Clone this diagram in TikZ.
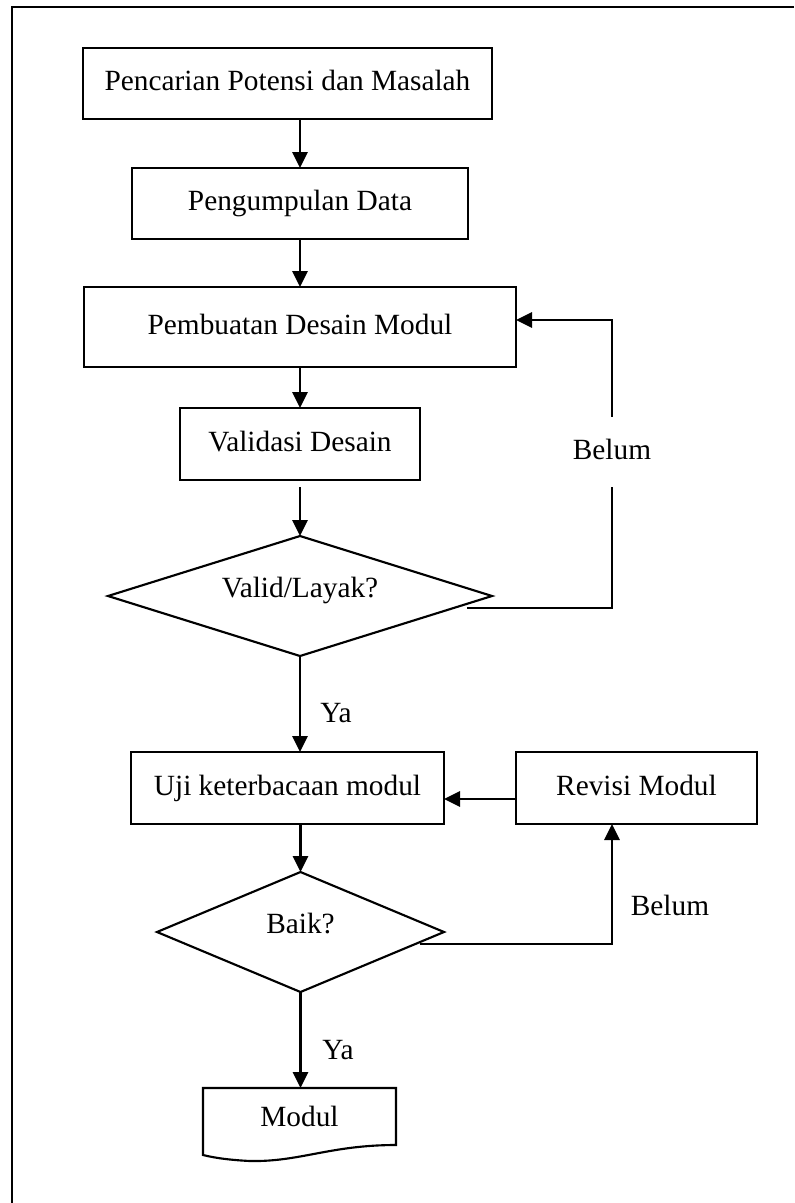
\documentclass[tikz,border=0pt]{standalone}
\usepackage{fontspec}
\setmainfont{Liberation Serif}
\usetikzlibrary{arrows.meta,shapes.geometric,calc}
\begin{document}
\begin{tikzpicture}[x=0.75pt,y=-0.75pt,
  every node/.style={font=\fontsize{22}{26}\selectfont, inner sep=0pt, outer sep=0pt},
  stroke/.style={line width=1.6pt},
  txt/.style={text height=1.26em, text depth=0.2em},
  box/.style={draw, stroke, rectangle, txt},
  decision/.style={draw, stroke, diamond, aspect=3.2, txt},
  arr/.style={stroke, -{Triangle[length=12pt,width=11.5pt]}},
  lbl/.style={txt}]
\useasboundingbox (0,0) rectangle (794,1203);
% outer frame (only top and left edges visible)
\draw[line width=1.9pt] (794,7) -- (12,7) -- (12,1203);

% nodes
\node[box, minimum width=306.75pt, minimum height=53.25pt] (b1) at (287.5,83.5) {Pencarian Potensi dan Masalah};
\node[box, minimum width=252pt, minimum height=53.25pt] (b2) at (300,203.5) {Pengumpulan Data};
\node[box, minimum width=324pt, minimum height=60pt] (b3) at (300,327) {Pembuatan Desain Modul};
\node[box, minimum width=180pt, minimum height=54pt] (b4) at (300,444) {Validasi Desain};
\node[decision, minimum width=288pt, minimum height=90pt] (d1) at (300,596) {\raisebox{4pt}{Valid/Layak?}};
\node[box, minimum width=234.75pt, minimum height=54pt] (u) at (287.5,788) {Uji keterbacaan modul};
\node[box, minimum width=180.75pt, minimum height=54pt] (r) at (636.5,788) {Revisi Modul};
\node[decision, minimum width=215.25pt, minimum height=90pt] (d2) at (300.5,932) {\raisebox{4pt}{Baik?}};
\node[lbl, minimum width=144.75pt, minimum height=46.5pt] (m) at (299.5,1119) {Modul};

% document shape of Modul
\draw[stroke, line join=miter] (203,1155) -- (203,1088) -- (396,1088) -- (396,1145)
  .. controls (330,1145) and (300,1162) .. (250,1161)
  .. controls (230,1160) and (215,1158) .. (203,1155) -- cycle;

% connectors
\draw[arr] (b1.south -| b2.north) -- (b2.north);
\draw[arr] (b2.south) -- (b3.north);
\draw[arr] (b3.south) -- (b4.north);
\draw[arr] ($(b4.south)+(0,7)$) -- (d1.north);

\coordinate (l1) at (467,608);
\coordinate (c1) at (612,320);
\draw[arr] (l1) -| (c1) -- (b3.east |- c1);
\node[lbl, fill=white, minimum height=52.5pt, minimum width=62pt] (bel1) at (612,452) {Belum};

\draw[arr] (d1.south) -- (d1.south |- u.north);
\node[lbl] (ya1) at (336,715) {Ya};

\draw[arr] ($(r.west)+(0,11)$) -- ($(u.east)+(0,11)$);
\draw[arr] (u.south -| d2.north) -- (d2.north);

\coordinate (l2) at (420,944);
\coordinate (c2) at (612,944);
\draw[arr] (l2) -- (c2) -- (c2 |- r.south);
\node[lbl] (bel2) at (670,908) {Belum};

\draw[arr] (d2.south) -- (d2.south |- m.north);
\node[lbl] (ya2) at (338,1052) {Ya};
\end{tikzpicture}
\end{document}
